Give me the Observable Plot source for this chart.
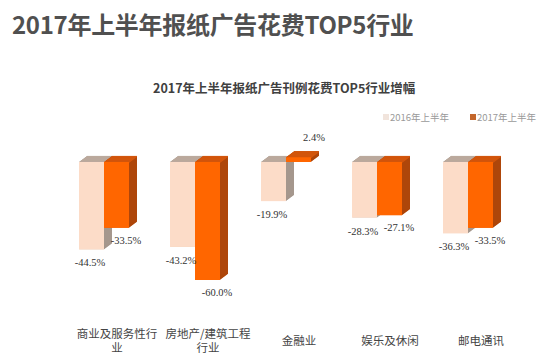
<!DOCTYPE html>
<html>
<head>
<meta charset="utf-8">
<script src="https://cdn.jsdelivr.net/npm/d3@7"></script>
<script src="https://cdn.jsdelivr.net/npm/@observablehq/plot@0.6"></script>
<style>
  html, body { margin: 0; padding: 0; background: #ffffff; }
  body { width: 553px; height: 361px; position: relative; overflow: hidden; font-family: "Noto Sans CJK SC", sans-serif; }
  #title { position: absolute; left: 12px; top: 6px; font-size: 24px; font-weight: bold; color: #505050; white-space: nowrap; letter-spacing: -0.3px; }
  #subtitle { position: absolute; left: 153px; top: 78px; font-size: 12.5px; font-weight: bold; color: #404040; white-space: nowrap; }
  #legend .item { position: absolute; top: 110px; font-size: 9.5px; color: #9a9a9a; white-space: nowrap; display: flex; align-items: center; height: 14px; }
  #legend .sw { display: inline-block; width: 6px; height: 6px; margin-right: 1px; }
  #chart { position: absolute; left: 0; top: 130px; }
</style>
</head>
<body>
<div id="title">2017年上半年报纸广告花费TOP5行业</div>
<div id="subtitle">2017年上半年报纸广告刊例花费TOP5行业增幅</div>
<div id="legend"></div>
<div id="chart"></div>
<script>
const categories = ["商业及服务性行业", "房地产/建筑工程行业", "金融业", "娱乐及休闲", "邮电通讯"];
const tickLabels = ["商业及服务性行\n业", "房地产/建筑工程\n行业", "金融业", "娱乐及休闲", "邮电通讯"];
const series = ["2016年上半年", "2017年上半年"];
const values2016 = [-44.5, -43.2, -19.9, -28.3, -36.3];
const values2017 = [-33.5, -60.0, 2.4, -27.1, -33.5];

const frontColors = ["#FCDCC8", "#FF6600"];
const topColors = ["#BBA99D", "#D2560C"];
const sideColors = ["#A5978D", "#AE460A"];

const data = [];
categories.forEach((c, i) => {
  data.push({cat: c, series: series[0], value: values2016[i]});
  data.push({cat: c, series: series[1], value: values2017[i]});
});

// legend
const legend = document.getElementById("legend");
const legendLeft = [383, 470];
series.forEach((s, i) => {
  const item = document.createElement("span");
  item.className = "item";
  item.style.left = legendLeft[i] + "px";
  const sw = document.createElement("span");
  sw.className = "sw";
  sw.style.background = i === 0 ? "#F1E4DC" : "#C4662A";
  item.appendChild(sw);
  item.appendChild(document.createTextNode(s));
  legend.appendChild(item);
});

const DEPTH_X = 8, DEPTH_Y = 6, STEP = 0.5;
const marks = [];
series.forEach((s, si) => {
  const sub = data.filter(d => d.series === s);
  // extrusion (side colour)
  for (let k = STEP; k <= DEPTH_X + 1e-9; k += STEP) {
    marks.push(Plot.barY(sub, {fx: "cat", x: "series", y1: () => 0, y2: "value",
      fill: sideColors[si], dx: k, dy: -k * DEPTH_Y / DEPTH_X}));
  }
  // top face
  for (let k = 0; k <= DEPTH_X + 1e-9; k += STEP) {
    marks.push(Plot.tickY(sub, {fx: "cat", x: "series", y: d => Math.max(0, d.value),
      stroke: topColors[si], strokeWidth: 1.2, dx: k, dy: -k * DEPTH_Y / DEPTH_X}));
  }
  // front face
  marks.push(Plot.barY(sub, {fx: "cat", x: "series", y1: () => 0, y2: "value", fill: frontColors[si]}));
});

// value labels
const fmt = v => v.toFixed(1) + "%";
const serif = "'Liberation Serif', 'Times New Roman', serif";
marks.push(Plot.text(data.filter(d => d.series === series[0] && d.value < 0), {
  fx: "cat", x: "series", y: "value", text: d => fmt(d.value), dx: -2, dy: 13,
  fontFamily: serif, fontSize: 10.5, fill: "#333"}));
marks.push(Plot.text(data.filter(d => d.series === series[1] && d.value < 0), {
  fx: "cat", x: "series", y: "value", text: d => fmt(d.value), dx: 9, dy: 12,
  fontFamily: serif, fontSize: 10.5, fill: "#333"}));
marks.push(Plot.text(data.filter(d => d.value >= 0), {
  fx: "cat", x: "series", y: "value", text: d => fmt(d.value), dx: 15, dy: -20,
  fontFamily: serif, fontSize: 10.5, fill: "#333"}));

// category labels
marks.push(Plot.text(categories, {fx: d => d, text: (d, i) => tickLabels[i],
  frameAnchor: "bottom", lineAnchor: "middle", dy: -21, dx: 13, lineHeight: 1.25,
  fontSize: 11.5, fill: "#444", fontFamily: "'Noto Sans CJK SC', sans-serif"}));

const chart = Plot.plot({
  width: 553,
  height: 231,
  marginLeft: 56,
  marginRight: 39,
  marginTop: 0,
  marginBottom: 0,
  style: {background: "transparent", overflow: "visible"},
  fx: {domain: categories, padding: 0, axis: null},
  x: {domain: series, paddingInner: 0, paddingOuter: 0.79, axis: null},
  y: {domain: [0, -60], range: [32, 150], axis: null},
  marks
});
document.getElementById("chart").appendChild(chart);
</script>
</body>
</html>
